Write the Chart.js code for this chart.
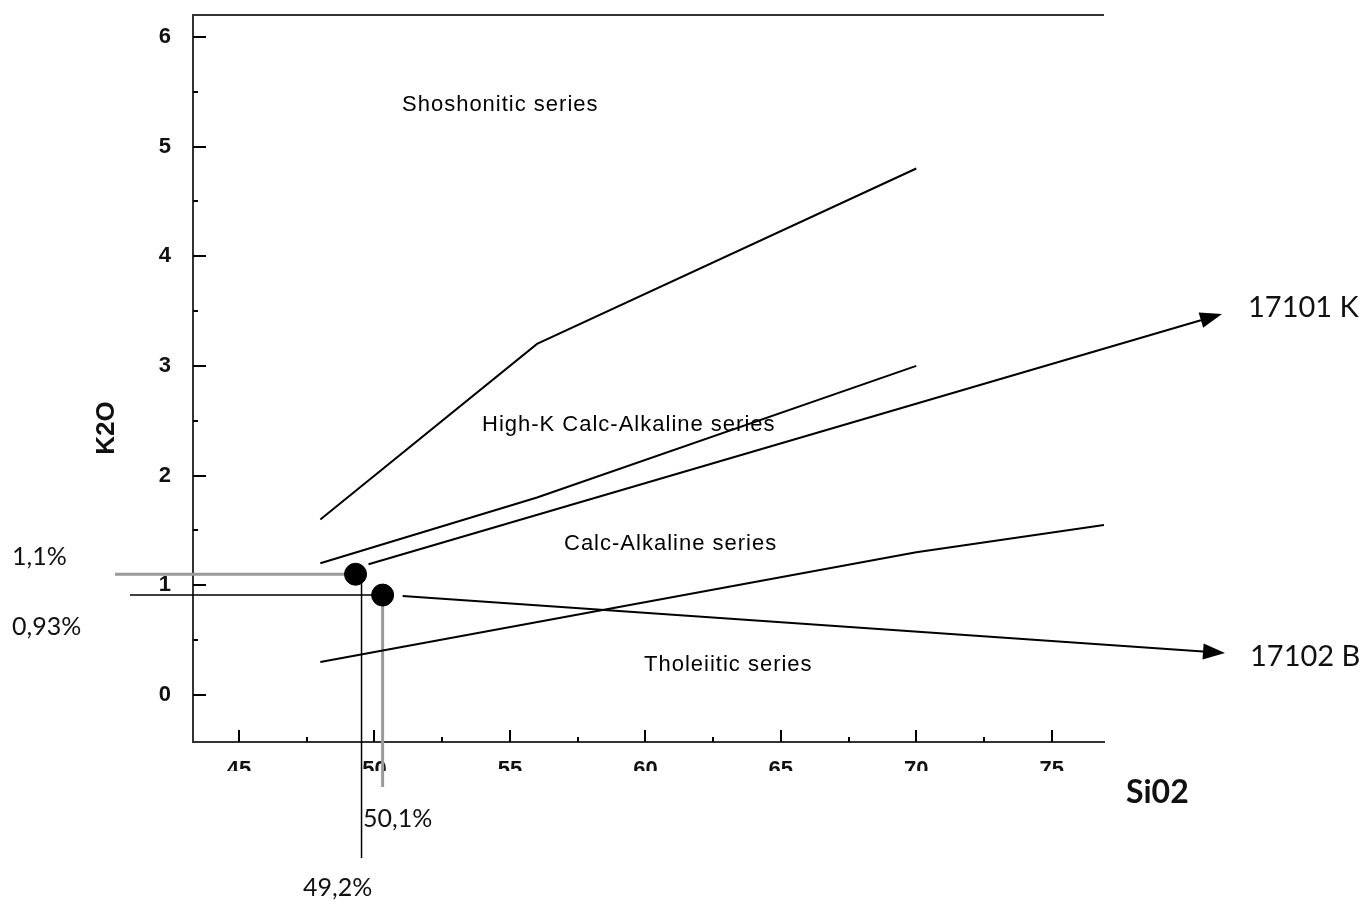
<!DOCTYPE html>
<html><head><meta charset="utf-8">
<script src="https://cdn.jsdelivr.net/npm/chart.js@4/dist/chart.umd.min.js"></script>
<style>html,body{margin:0;padding:0;background:#fff}#wrap{width:1365px;height:901px;position:relative}</style>
</head><body><div id="wrap"><canvas id="c" width="1365" height="901"></canvas></div>
<script>
// ---- data ----
const xTicks = [45, 50, 55, 60, 65, 70, 75];
const xMinorTicks = [47.5, 52.5, 57.5, 62.5, 67.5, 72.5];
const yTicks = [0, 1, 2, 3, 4, 5, 6];
const yMinorTicks = [0.5, 1.5, 2.5, 3.5, 4.5, 5.5];

const shoshoniticX = [48, 56, 70];
const shoshoniticY = [1.6, 3.2, 4.8];
const highKX = [48, 56, 70];
const highKY = [1.2, 1.8, 3.0];
const tholeiiticX = [48, 70, 76.93];
const tholeiiticY = [0.3, 1.3, 1.55];

const sampleNames = ['17101 K', '17102 B'];
const sampleSiO2 = [49.3, 50.3];
const sampleK2O = [1.1, 0.91];
const sampleSiO2Text = ['49,2%', '50,1%'];
const sampleK2OText = ['1,1%', '0,93%'];

const seriesNames = ['Shoshonitic series', 'High-K Calc-Alkaline series', 'Calc-Alkaline series', 'Tholeiitic series'];

const toPts = (xs, ys) => xs.map((x, i) => ({x, y: ys[i]}));

function arrow(ctx, x0, y0, x1, y1) {
  const a = Math.atan2(y1 - y0, x1 - x0);
  const L = 22, W = 8;
  const bx = x1 - L * Math.cos(a), by = y1 - L * Math.sin(a);
  ctx.beginPath(); ctx.moveTo(x0, y0); ctx.lineTo(bx, by); ctx.stroke();
  ctx.beginPath();
  ctx.moveTo(x1, y1);
  ctx.lineTo(bx + W * Math.sin(a), by - W * Math.cos(a));
  ctx.lineTo(bx - W * Math.sin(a), by + W * Math.cos(a));
  ctx.closePath(); ctx.fill();
}

const decor = {
  id: 'decor',
  beforeDatasetsDraw(chart) {
    const {ctx, chartArea: ca, scales: {x, y}} = chart;
    ctx.save();
    // clip x tick labels as in reference
    ctx.fillStyle = '#fff';
    ctx.fillRect(ca.left + 2, 771, ca.right - ca.left, 30);
    // top border
    ctx.strokeStyle = '#333'; ctx.lineWidth = 2;
    ctx.beginPath(); ctx.moveTo(ca.left, ca.top); ctx.lineTo(ca.right, ca.top); ctx.stroke();
    // inside ticks
    ctx.strokeStyle = '#000'; ctx.lineWidth = 2;
    xTicks.forEach(v => { const px = Math.round(x.getPixelForValue(v)); ctx.beginPath(); ctx.moveTo(px, ca.bottom); ctx.lineTo(px, ca.bottom - 12); ctx.stroke(); });
    xMinorTicks.forEach(v => { const px = Math.round(x.getPixelForValue(v)); ctx.beginPath(); ctx.moveTo(px, ca.bottom); ctx.lineTo(px, ca.bottom - 5); ctx.stroke(); });
    yTicks.forEach(v => { const py = Math.round(y.getPixelForValue(v)); ctx.beginPath(); ctx.moveTo(ca.left, py); ctx.lineTo(ca.left + 13, py); ctx.stroke(); });
    yMinorTicks.forEach(v => { const py = Math.round(y.getPixelForValue(v)); ctx.beginPath(); ctx.moveTo(ca.left, py); ctx.lineTo(ca.left + 5, py); ctx.stroke(); });

    const p1x = x.getPixelForValue(sampleSiO2[0]), p1y = y.getPixelForValue(sampleK2O[0]);
    const p2x = x.getPixelForValue(sampleSiO2[1]), p2y = y.getPixelForValue(sampleK2O[1]);
    // guide lines
    ctx.strokeStyle = '#9a9a9a'; ctx.lineWidth = 3;
    ctx.beginPath(); ctx.moveTo(115, p1y); ctx.lineTo(p1x, p1y); ctx.stroke();
    ctx.beginPath(); ctx.moveTo(p2x, p2y); ctx.lineTo(p2x, 787); ctx.stroke();
    ctx.strokeStyle = '#000'; ctx.lineWidth = 1.5;
    ctx.beginPath(); ctx.moveTo(130, p2y); ctx.lineTo(p2x, p2y); ctx.stroke();
    ctx.beginPath(); ctx.moveTo(p1x + 6, p1y); ctx.lineTo(p1x + 6, 858); ctx.stroke();
    // arrows
    ctx.strokeStyle = '#000'; ctx.fillStyle = '#000'; ctx.lineWidth = 2;
    arrow(ctx, p1x + 13, p1y - 10, 1222, 314);
    arrow(ctx, p2x + 20, p2y + 1, 1225, 653);
    ctx.restore();
  },
  afterDraw(chart) {
    const {ctx} = chart;
    ctx.save();
    ctx.fillStyle = '#000';
    ctx.textBaseline = 'middle';
    ctx.textAlign = 'left';
    ctx.font = '22px "Liberation Sans", Arial, sans-serif';
    ctx.letterSpacing = '1px';
    const sPos = [[402, 105], [482, 425], [564, 544], [644, 665]];
    seriesNames.forEach((t, i) => ctx.fillText(t, sPos[i][0], sPos[i][1]));
    ctx.letterSpacing = '0px';
    ctx.fillStyle = '#111';
    ctx.font = '25px Lato, "Open Sans", sans-serif';
    ctx.fillText(sampleK2OText[0], 12, 557);
    ctx.fillText(sampleK2OText[1], 12, 627);
    ctx.fillText(sampleSiO2Text[1], 363, 819);
    ctx.fillText(sampleSiO2Text[0], 303, 888);
    ctx.font = '29px Lato, "Open Sans", sans-serif';
    ctx.fillText(sampleNames[0], 1248, 308);
    ctx.fillText(sampleNames[1], 1250, 657);
    ctx.font = 'bold 32px Lato, "Open Sans", sans-serif';
    ctx.fillText('Si02', 1126, 793);
    // y title
    ctx.save();
    ctx.translate(107, 428); ctx.rotate(-Math.PI / 2);
    ctx.textAlign = 'center';
    ctx.font = 'bold 26px "Liberation Sans", Arial, sans-serif';
    ctx.fillText('K2O', 0, 0);
    ctx.restore();
    ctx.restore();
  }
};

const lineDs = (pts) => ({type: 'line', data: pts, borderColor: '#000', borderWidth: 2, pointRadius: 0, fill: false, tension: 0, showLine: true});

new Chart(document.getElementById('c'), {
  type: 'scatter',
  data: {
    datasets: [
      lineDs(toPts(shoshoniticX, shoshoniticY)),
      lineDs(toPts(highKX, highKY)),
      lineDs(toPts(tholeiiticX, tholeiiticY)),
      {type: 'scatter', data: toPts(sampleSiO2, sampleK2O), backgroundColor: '#000', borderColor: '#000', pointRadius: 11, pointHoverRadius: 11}
    ]
  },
  options: {
    responsive: false, animation: false, devicePixelRatio: 1,
    layout: {padding: {left: 0, top: 15, right: 261, bottom: 119}},
    plugins: {legend: {display: false}, tooltip: {enabled: false}},
    scales: {
      x: {
        type: 'linear', min: 43.3, max: 76.93,
        afterBuildTicks: s => { s.ticks = xTicks.map(v => ({value: v})); },
        afterFit: s => { s.height = 40; s.paddingLeft = 0; s.paddingRight = 0; },
        grid: {display: false, drawTicks: false},
        border: {display: true, color: '#333', width: 2},
        ticks: {padding: 15, color: '#111', font: {family: '"Liberation Sans", Arial', size: 22, weight: 'bold'}, maxRotation: 0}
      },
      y: {
        type: 'linear', min: -0.43, max: 6.2,
        afterBuildTicks: s => { s.ticks = yTicks.map(v => ({value: v})); },
        afterFit: s => { s.width = 193; s.paddingTop = 0; s.paddingBottom = 0; },
        grid: {display: false, drawTicks: false},
        border: {display: true, color: '#333', width: 2},
        ticks: {padding: 22, color: '#111', font: {family: '"Liberation Sans", Arial', size: 22, weight: 'bold'}}
      }
    }
  },
  plugins: [decor]
});
</script></body></html>
